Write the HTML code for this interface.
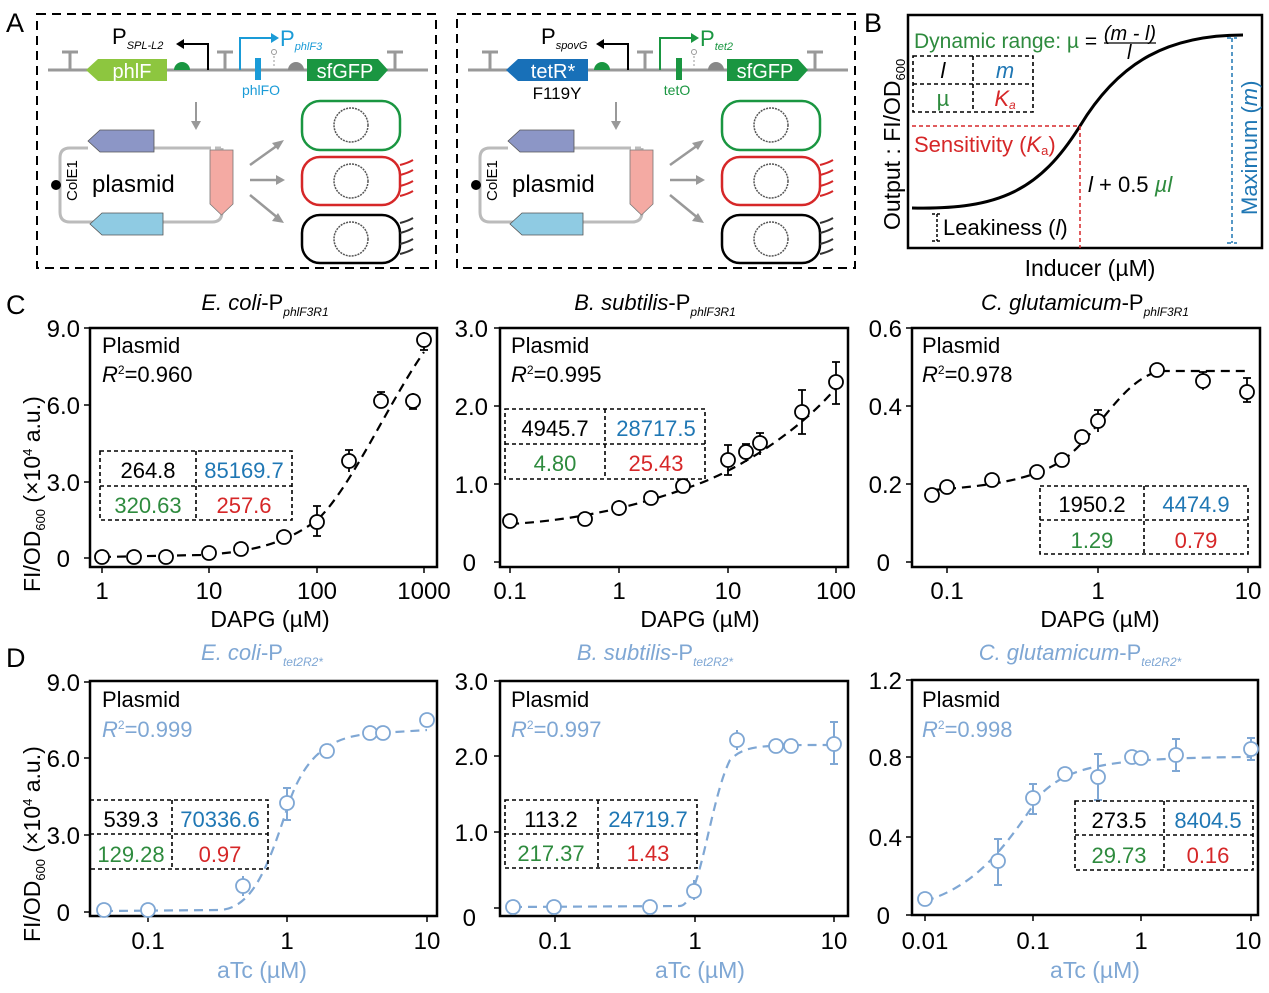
<!DOCTYPE html>
<html><head><meta charset="utf-8"><style>
html,body{margin:0;padding:0;background:#fff;}
svg{display:block;font-family:"Liberation Sans",Arial,sans-serif;}
.tk{font-size:24px;fill:#000;}
.fr{fill:none;stroke:#000;stroke-width:2.5;}
.tb{fill:none;stroke:#000;stroke-width:1.6;stroke-dasharray:4,3;}
.num{font-size:22px;text-anchor:middle;}
.pt{fill:#fff;stroke:#000;stroke-width:1.8;}
.pb{fill:#fff;stroke:#7fa7d4;stroke-width:1.8;}
.eb{stroke:#000;stroke-width:1.8;fill:none;}
.ebb{stroke:#7fa7d4;stroke-width:2;fill:none;}
.ax{font-size:23px;}
</style></head><body>
<svg width="1269" height="993" viewBox="0 0 1269 993" xmlns="http://www.w3.org/2000/svg">
<text x="6" y="32" font-size="27">A</text>
<text x="864" y="32" font-size="27">B</text>
<text x="6" y="314" font-size="27">C</text>
<text x="6" y="667" font-size="27">D</text>

<!-- Panel A box 1 -->
<rect x="37" y="14" width="399" height="254" fill="none" stroke="#000" stroke-width="2" stroke-dasharray="9,6"/>
<line x1="48" y1="70" x2="428" y2="70" stroke="#999" stroke-width="3"/>
<g stroke="#999" stroke-width="3" fill="none">
<path d="M70,70V52M62,52H78"/><path d="M225,70V52M217,52H233"/><path d="M395,70V52M387,52H403"/>
</g>
<polygon points="86,70 98,59 167,59 167,81 98,81" fill="#8dc63f"/>
<text x="132" y="78" font-size="20" fill="#fff" text-anchor="middle">phlF</text>
<path d="M174,70 A8,8 0 0 1 190,70Z" fill="#1a9641"/>
<path d="M208,70V44H182" stroke="#000" stroke-width="2" fill="none"/><polygon points="176,44 184,39 184,49" fill="#000"/>
<text x="112" y="44" font-size="22">P<tspan font-size="11" font-style="italic" dy="5">SPL-L2</tspan></text>
<path d="M240,70V38H272" stroke="#1a9bd7" stroke-width="2" fill="none"/><polygon points="279,38 271,33 271,43" fill="#1a9bd7"/>
<text x="280" y="46" font-size="22" fill="#1a9bd7">P<tspan font-size="11" font-style="italic" dy="4">phlF3</tspan></text>
<rect x="255" y="58" width="6" height="22" fill="#1a9bd7"/>
<text x="261" y="95" font-size="14" fill="#1a9bd7" text-anchor="middle">phlFO</text>
<circle cx="274" cy="52" r="2.5" fill="none" stroke="#999"/><line x1="274" y1="56" x2="274" y2="68" stroke="#999" stroke-dasharray="2,2"/>
<path d="M288,70 A8,8 0 0 1 304,70Z" fill="#888"/>
<polygon points="307,59 378,59 388,70 378,81 307,81" fill="#1a9641"/>
<text x="345" y="78" font-size="20" fill="#fff" text-anchor="middle">sfGFP</text>
<line x1="196" y1="102" x2="196" y2="124" stroke="#999" stroke-width="2"/><polygon points="196,130 191,121 201,121" fill="#999"/>
<path d="M154,148 H205" stroke="#bbb" stroke-width="3"/><path d="M205,148 H222" stroke="#bbb" stroke-width="3" stroke-dasharray="6,4"/>
<path d="M88,148 H70 Q60,148 60,158 V212 Q60,222 70,222 H212 Q222,222 222,212 V148" stroke="#bbb" stroke-width="3" fill="none"/>
<polygon points="88,141 100,130 154,130 154,152 100,152" fill="#8c96c6" stroke="#555" stroke-width="0.8"/>
<polygon points="90,224 102,213 163,213 163,235 102,235" fill="#8fcbe3" stroke="#555" stroke-width="0.8"/>
<polygon points="210,150 233,150 233,204 221.5,215 210,204" fill="#f4aaa3" stroke="#777" stroke-width="0.8"/>
<circle cx="56" cy="185" r="5" fill="#000"/>
<text transform="translate(77,201) rotate(-90)" font-size="15">ColE1</text>
<text x="92" y="192" font-size="24">plasmid</text>
<g stroke="#999" stroke-width="2.5"><line x1="250" y1="165" x2="278" y2="145"/><line x1="250" y1="180" x2="278" y2="180"/><line x1="250" y1="195" x2="278" y2="218"/></g>
<polygon points="284,140 272,143 278,150" fill="#999"/><polygon points="285,180 276,175 276,185" fill="#999"/><polygon points="284,223 278,213 272,221" fill="#999"/>
<rect x="302" y="101" width="98" height="49" rx="18" fill="none" stroke="#1a9641" stroke-width="2.5"/>
<rect x="302" y="157" width="98" height="48" rx="18" fill="none" stroke="#d62728" stroke-width="2.5"/>
<rect x="302" y="215" width="98" height="48" rx="18" fill="none" stroke="#000" stroke-width="2.5"/>
<g fill="none" stroke="#555" stroke-width="1.5" stroke-dasharray="2,1"><circle cx="351" cy="125" r="17"/><circle cx="351" cy="181" r="17"/><circle cx="351" cy="239" r="17"/></g>
<g fill="none" stroke="#d62728" stroke-width="2"><path d="M400,165 q8,-2 13,-5"/><path d="M400,175 q8,-2 13,-5"/><path d="M400,186 q8,-2 13,-5"/><path d="M400,196 q8,-2 13,-5"/></g>
<g fill="none" stroke="#333" stroke-width="2"><path d="M400,223 q8,-2 13,-5"/><path d="M400,233 q8,-2 13,-5"/><path d="M400,244 q8,-2 13,-5"/><path d="M400,254 q8,-2 13,-5"/></g>

<!-- Panel A box 2 -->
<rect x="457" y="14" width="398" height="254" fill="none" stroke="#000" stroke-width="2" stroke-dasharray="9,6"/>
<line x1="468" y1="70" x2="848" y2="70" stroke="#999" stroke-width="3"/>
<g stroke="#999" stroke-width="3" fill="none">
<path d="M490,70V52M482,52H498"/><path d="M645,70V52M637,52H653"/><path d="M815,70V52M807,52H823"/>
</g>
<polygon points="506,70 518,59 588,59 588,81 518,81" fill="#1870b8"/>
<text x="553" y="78" font-size="20" fill="#fff" text-anchor="middle">tetR*</text>
<text x="557" y="99" font-size="17" text-anchor="middle">F119Y</text>
<path d="M594,70 A8,8 0 0 1 610,70Z" fill="#1a9641"/>
<path d="M628,70V44H602" stroke="#000" stroke-width="2" fill="none"/><polygon points="596,44 604,39 604,49" fill="#000"/>
<text x="541" y="44" font-size="22">P<tspan font-size="11" font-style="italic" dy="5">spovG</tspan></text>
<path d="M660,70V38H692" stroke="#1a9641" stroke-width="2" fill="none"/><polygon points="699,38 691,33 691,43" fill="#1a9641"/>
<text x="700" y="46" font-size="22" fill="#1a9641">P<tspan font-size="11" font-style="italic" dy="4">tet2</tspan></text>
<rect x="676" y="58" width="6" height="22" fill="#1a9641"/>
<text x="677" y="95" font-size="14" fill="#1a9641" text-anchor="middle">tetO</text>
<circle cx="694" cy="52" r="2.5" fill="none" stroke="#999"/><line x1="694" y1="56" x2="694" y2="68" stroke="#999" stroke-dasharray="2,2"/>
<path d="M708,70 A8,8 0 0 1 724,70Z" fill="#888"/>
<polygon points="727,59 798,59 808,70 798,81 727,81" fill="#1a9641"/>
<text x="765" y="78" font-size="20" fill="#fff" text-anchor="middle">sfGFP</text>
<line x1="616" y1="102" x2="616" y2="124" stroke="#999" stroke-width="2"/><polygon points="616,130 611,121 621,121" fill="#999"/>
<path d="M574,148 H625" stroke="#bbb" stroke-width="3"/><path d="M625,148 H642" stroke="#bbb" stroke-width="3" stroke-dasharray="6,4"/>
<path d="M508,148 H490 Q480,148 480,158 V212 Q480,222 490,222 H632 Q642,222 642,212 V148" stroke="#bbb" stroke-width="3" fill="none"/>
<polygon points="508,141 520,130 574,130 574,152 520,152" fill="#8c96c6" stroke="#555" stroke-width="0.8"/>
<polygon points="510,224 522,213 583,213 583,235 522,235" fill="#8fcbe3" stroke="#555" stroke-width="0.8"/>
<polygon points="630,150 653,150 653,204 641.5,215 630,204" fill="#f4aaa3" stroke="#777" stroke-width="0.8"/>
<circle cx="476" cy="185" r="5" fill="#000"/>
<text transform="translate(497,201) rotate(-90)" font-size="15">ColE1</text>
<text x="512" y="192" font-size="24">plasmid</text>
<g stroke="#999" stroke-width="2.5"><line x1="670" y1="165" x2="698" y2="145"/><line x1="670" y1="180" x2="698" y2="180"/><line x1="670" y1="195" x2="698" y2="218"/></g>
<polygon points="704,140 692,143 698,150" fill="#999"/><polygon points="705,180 696,175 696,185" fill="#999"/><polygon points="704,223 698,213 692,221" fill="#999"/>
<rect x="722" y="101" width="98" height="49" rx="18" fill="none" stroke="#1a9641" stroke-width="2.5"/>
<rect x="722" y="157" width="98" height="48" rx="18" fill="none" stroke="#d62728" stroke-width="2.5"/>
<rect x="722" y="215" width="98" height="48" rx="18" fill="none" stroke="#000" stroke-width="2.5"/>
<g fill="none" stroke="#555" stroke-width="1.5" stroke-dasharray="2,1"><circle cx="771" cy="125" r="17"/><circle cx="771" cy="181" r="17"/><circle cx="771" cy="239" r="17"/></g>
<g fill="none" stroke="#d62728" stroke-width="2"><path d="M820,165 q8,-2 13,-5"/><path d="M820,175 q8,-2 13,-5"/><path d="M820,186 q8,-2 13,-5"/><path d="M820,196 q8,-2 13,-5"/></g>
<g fill="none" stroke="#333" stroke-width="2"><path d="M820,223 q8,-2 13,-5"/><path d="M820,233 q8,-2 13,-5"/><path d="M820,244 q8,-2 13,-5"/><path d="M820,254 q8,-2 13,-5"/></g>

<!-- Panel B -->
<rect x="908" y="15" width="354" height="233" class="fr"/>
<text transform="translate(900,230) rotate(-90)" font-size="23">Output :  FI/OD<tspan font-size="13" dy="5">600</tspan></text>
<text x="1090" y="276" font-size="23" text-anchor="middle">Inducer (µM)</text>
<path d="M912,208 C1000,210 1040,190 1080,126 C1120,60 1170,35 1243,35" stroke="#000" stroke-width="3" fill="none"/>
<path d="M912,126 H1080 V248" stroke="#d62728" stroke-width="1.5" stroke-dasharray="4,3" fill="none"/>
<path d="M1232,38 V243 M1227,38H1237 M1227,243H1237" stroke="#1f77b4" stroke-width="1.5" stroke-dasharray="4,3" fill="none"/>
<text transform="translate(1257,215) rotate(-90)" font-size="22" fill="#1f77b4">Maximum (<tspan font-style="italic">m</tspan>)</text>
<path d="M937,214 V241 M932,214H942 M932,241H942" stroke="#000" stroke-width="1.5" stroke-dasharray="3,2" fill="none"/>
<text x="943" y="235" font-size="22">Leakiness (<tspan font-style="italic">l</tspan>)</text>
<text x="914" y="152" font-size="22" fill="#d62728">Sensitivity (<tspan font-style="italic">K</tspan><tspan font-size="13" dy="3">a</tspan><tspan dy="-3">)</tspan></text>
<text x="1088" y="192" font-size="22"><tspan font-style="italic">l</tspan> + 0.5 <tspan font-style="italic" fill="#2e8b3e">µl</tspan></text>
<text x="914" y="48" font-size="21" fill="#2e8b3e">Dynamic range: µ <tspan fill="#000">=</tspan></text>
<text x="1130" y="40" font-size="20" text-anchor="middle" font-style="italic">(m - l)</text>
<line x1="1104" y1="43" x2="1156" y2="43" stroke="#000" stroke-width="1.2"/>
<text x="1127" y="59" font-size="20" font-style="italic">l</text>
<rect x="913" y="56" width="120" height="56" class="tb"/><line x1="973" y1="56" x2="973" y2="112" class="tb"/><line x1="913" y1="84" x2="1033" y2="84" class="tb"/>
<text x="943" y="78" class="num" font-size="21" font-style="italic">l</text>
<text x="1005" y="78" class="num" font-size="21" font-style="italic" fill="#1f77b4">m</text>
<text x="943" y="106" class="num" font-size="21" fill="#2e8b3e">µ</text>
<text x="1005" y="106" class="num" font-size="21" font-style="italic" fill="#d62728">K<tspan font-size="12" dy="3">a</tspan></text>

<text transform="translate(40,592) rotate(-90)" font-size="23">FI/OD<tspan font-size="13" dy="5">600</tspan><tspan dy="-5"> (×10</tspan><tspan font-size="13" dy="-8">4</tspan><tspan dy="8"> a.u.)</tspan></text>
<text transform="translate(40,942) rotate(-90)" font-size="23">FI/OD<tspan font-size="13" dy="5">600</tspan><tspan dy="-5"> (×10</tspan><tspan font-size="13" dy="-8">4</tspan><tspan dy="8"> a.u.)</tspan></text>

<!-- C1 -->
<text x="265" y="310" font-size="22" text-anchor="middle"><tspan font-style="italic">E. coli</tspan>-P<tspan font-size="12" font-style="italic" dy="6">phlF3R1</tspan></text>
<rect x="90" y="328" width="347" height="239" class="fr"/>
<g stroke="#000" stroke-width="1.5"><path d="M84,328H90M84,405H90M84,482H90M84,558H90M102,567v6M209,567v6M317,567v6M424,567v6"/></g>
<g class="tk" text-anchor="end"><text x="80" y="337">9.0</text><text x="80" y="414">6.0</text><text x="80" y="491">3.0</text><text x="70" y="567">0</text></g>
<g class="tk" text-anchor="middle"><text x="102" y="599">1</text><text x="209" y="599">10</text><text x="317" y="599">100</text><text x="424" y="599">1000</text></g>
<text x="270" y="627" class="ax" text-anchor="middle">DAPG (µM)</text>
<text x="102" y="353" font-size="22">Plasmid</text>
<text x="102" y="382" font-size="22"><tspan font-style="italic">R</tspan><tspan font-size="12" dy="-8">2</tspan><tspan dy="8">=0.960</tspan></text>
<path d="M102,557 L200,555 C260,552 290,540 317,520 C350,490 390,400 424,352" stroke="#000" stroke-width="2.2" stroke-dasharray="9,6" fill="none"/>
<g class="eb"><path d="M317,506v30M313,506h8M313,536h8M349,450v22M345,450h8M381,392v16M377,392h8M424,332v18M420,350h8M413,393v16M409,409h8"/></g>
<g class="pt"><circle cx="102" cy="557" r="7"/><circle cx="134" cy="557" r="7"/><circle cx="166" cy="557" r="7"/><circle cx="209" cy="553" r="7"/><circle cx="241" cy="549" r="7"/><circle cx="284" cy="537" r="7"/><circle cx="317" cy="522" r="7"/><circle cx="349" cy="461" r="7"/><circle cx="381" cy="401" r="7"/><circle cx="413" cy="401" r="7"/><circle cx="424" cy="340" r="7"/></g>
<rect x="100" y="451" width="192" height="69" class="tb"/><line x1="196" y1="451" x2="196" y2="520" class="tb"/><line x1="100" y1="486" x2="292" y2="486" class="tb"/>
<text x="148" y="478" class="num">264.8</text><text x="244" y="478" class="num" fill="#1f77b4">85169.7</text>
<text x="148" y="513" class="num" fill="#2e8b3e">320.63</text><text x="244" y="513" class="num" fill="#d62728">257.6</text>

<!-- C2 -->
<text x="655" y="310" font-size="22" text-anchor="middle"><tspan font-style="italic">B. subtilis</tspan>-P<tspan font-size="12" font-style="italic" dy="6">phlF3R1</tspan></text>
<rect x="500" y="328" width="348" height="239" class="fr"/>
<g stroke="#000" stroke-width="1.5"><path d="M494,328H500M494,406H500M494,484H500M494,562H500M510,567v6M619,567v6M728,567v6M836,567v6"/></g>
<g class="tk" text-anchor="end"><text x="488" y="337">3.0</text><text x="488" y="415">2.0</text><text x="488" y="493">1.0</text><text x="476" y="571">0</text></g>
<g class="tk" text-anchor="middle"><text x="510" y="599">0.1</text><text x="619" y="599">1</text><text x="728" y="599">10</text><text x="836" y="599">100</text></g>
<text x="700" y="627" class="ax" text-anchor="middle">DAPG (µM)</text>
<text x="511" y="353" font-size="22">Plasmid</text>
<text x="511" y="382" font-size="22"><tspan font-style="italic">R</tspan><tspan font-size="12" dy="-8">2</tspan><tspan dy="8">=0.995</tspan></text>
<path d="M510,524 C580,520 640,505 690,487 C740,470 800,430 836,388" stroke="#000" stroke-width="2.2" stroke-dasharray="9,6" fill="none"/>
<g class="eb"><path d="M728,445v30M724,445h8M724,475h8M746,444v18M742,444h8M760,433v22M756,433h8M802,390v44M798,390h8M798,434h8M836,362v42M832,362h8M832,404h8M619,500v16"/></g>
<g class="pt"><circle cx="510" cy="521" r="7"/><circle cx="585" cy="519" r="7"/><circle cx="619" cy="508" r="7"/><circle cx="651" cy="498" r="7"/><circle cx="683" cy="486" r="7"/><circle cx="728" cy="460" r="7"/><circle cx="746" cy="452" r="7"/><circle cx="760" cy="443" r="7"/><circle cx="802" cy="412" r="7"/><circle cx="836" cy="382" r="7"/></g>
<rect x="505" y="409" width="200" height="70" class="tb"/><line x1="605" y1="409" x2="605" y2="479" class="tb"/><line x1="505" y1="444" x2="705" y2="444" class="tb"/>
<text x="555" y="436" class="num">4945.7</text><text x="656" y="436" class="num" fill="#1f77b4">28717.5</text>
<text x="555" y="471" class="num" fill="#2e8b3e">4.80</text><text x="656" y="471" class="num" fill="#d62728">25.43</text>

<!-- C3 -->
<text x="1085" y="310" font-size="22" text-anchor="middle"><tspan font-style="italic">C. glutamicum</tspan>-P<tspan font-size="12" font-style="italic" dy="6">phlF3R1</tspan></text>
<rect x="912" y="328" width="348" height="239" class="fr"/>
<g stroke="#000" stroke-width="1.5"><path d="M906,328H912M906,406H912M906,484H912M906,562H912M947,567v6M1098,567v6M1248,567v6"/></g>
<g class="tk" text-anchor="end"><text x="902" y="337">0.6</text><text x="902" y="415">0.4</text><text x="902" y="493">0.2</text><text x="890" y="571">0</text></g>
<g class="tk" text-anchor="middle"><text x="947" y="599">0.1</text><text x="1098" y="599">1</text><text x="1248" y="599">10</text></g>
<text x="1100" y="627" class="ax" text-anchor="middle">DAPG (µM)</text>
<text x="922" y="353" font-size="22">Plasmid</text>
<text x="922" y="382" font-size="22"><tspan font-style="italic">R</tspan><tspan font-size="12" dy="-8">2</tspan><tspan dy="8">=0.978</tspan></text>
<path d="M932,490 C990,486 1030,480 1060,462 C1095,440 1120,380 1160,371 L1247,371" stroke="#000" stroke-width="2.2" stroke-dasharray="9,6" fill="none"/>
<g class="eb"><path d="M1098,410v22M1094,410h8M1203,372v18M1199,372h8M1247,378v24M1243,378h8M1243,402h8"/></g>
<g class="pt"><circle cx="932" cy="495" r="7"/><circle cx="947" cy="487" r="7"/><circle cx="992" cy="480" r="7"/><circle cx="1037" cy="472" r="7"/><circle cx="1062" cy="460" r="7"/><circle cx="1082" cy="437" r="7"/><circle cx="1098" cy="421" r="7"/><circle cx="1157" cy="370" r="7"/><circle cx="1203" cy="381" r="7"/><circle cx="1247" cy="392" r="7"/></g>
<rect x="1040" y="486" width="208" height="68" class="tb"/><line x1="1144" y1="486" x2="1144" y2="554" class="tb"/><line x1="1040" y1="520" x2="1248" y2="520" class="tb"/>
<text x="1092" y="512" class="num">1950.2</text><text x="1196" y="512" class="num" fill="#1f77b4">4474.9</text>
<text x="1092" y="548" class="num" fill="#2e8b3e">1.29</text><text x="1196" y="548" class="num" fill="#d62728">0.79</text>

<!-- D1 -->
<text x="262" y="660" font-size="22" text-anchor="middle" fill="#7fa7d4"><tspan font-style="italic">E. coli</tspan>-P<tspan font-size="12" font-style="italic" dy="6">tet2R2*</tspan></text>
<rect x="90" y="681" width="347" height="235" class="fr"/>
<g stroke="#000" stroke-width="1.5"><path d="M84,682H90M84,758H90M84,835H90M84,912H90M148,916v6M287,916v6M427,916v6"/></g>
<g class="tk" text-anchor="end"><text x="80" y="691">9.0</text><text x="80" y="767">6.0</text><text x="80" y="844">3.0</text><text x="70" y="921">0</text></g>
<g class="tk" text-anchor="middle"><text x="148" y="949">0.1</text><text x="287" y="949">1</text><text x="427" y="949">10</text></g>
<text x="262" y="978" class="ax" text-anchor="middle" fill="#7fa7d4">aTc (µM)</text>
<text x="102" y="707" font-size="22">Plasmid</text>
<text x="102" y="737" font-size="22" fill="#7fa7d4"><tspan font-style="italic">R</tspan><tspan font-size="12" dy="-8">2</tspan><tspan dy="8">=0.999</tspan></text>
<path d="M104,911 L220,910 C255,908 270,860 290,800 C310,745 340,735 380,733 L427,730" stroke="#7fa7d4" stroke-width="2.2" stroke-dasharray="9,6" fill="none"/>
<g class="ebb"><path d="M243,876v20M287,788v32M283,788h8M283,820h8M327,744v14M427,714v12"/></g>
<g class="pb"><circle cx="104" cy="910" r="7"/><circle cx="148" cy="910" r="7"/><circle cx="243" cy="886" r="7"/><circle cx="287" cy="803" r="7"/><circle cx="327" cy="751" r="7"/><circle cx="370" cy="733" r="7"/><circle cx="383" cy="733" r="7"/><circle cx="427" cy="720" r="7"/></g>
<rect x="90" y="800" width="178" height="69" class="tb"/><line x1="172" y1="800" x2="172" y2="869" class="tb"/><line x1="90" y1="834" x2="268" y2="834" class="tb"/>
<text x="131" y="827" class="num">539.3</text><text x="220" y="827" class="num" fill="#1f77b4">70336.6</text>
<text x="131" y="862" class="num" fill="#2e8b3e">129.28</text><text x="220" y="862" class="num" fill="#d62728">0.97</text>

<!-- D2 -->
<text x="655" y="660" font-size="22" text-anchor="middle" fill="#7fa7d4"><tspan font-style="italic">B. subtilis</tspan>-P<tspan font-size="12" font-style="italic" dy="6">tet2R2*</tspan></text>
<rect x="500" y="681" width="348" height="235" class="fr"/>
<g stroke="#000" stroke-width="1.5"><path d="M494,681H500M494,756H500M494,832H500M494,908H500M555,916v6M695,916v6M834,916v6"/></g>
<g class="tk" text-anchor="end"><text x="488" y="690">3.0</text><text x="488" y="765">2.0</text><text x="488" y="841">1.0</text><text x="476" y="926">0</text></g>
<g class="tk" text-anchor="middle"><text x="555" y="949">0.1</text><text x="695" y="949">1</text><text x="834" y="949">10</text></g>
<text x="700" y="978" class="ax" text-anchor="middle" fill="#7fa7d4">aTc (µM)</text>
<text x="511" y="707" font-size="22">Plasmid</text>
<text x="511" y="737" font-size="22" fill="#7fa7d4"><tspan font-style="italic">R</tspan><tspan font-size="12" dy="-8">2</tspan><tspan dy="8">=0.997</tspan></text>
<path d="M513,907 L680,906 C700,905 710,800 730,760 C745,745 760,745 834,745" stroke="#7fa7d4" stroke-width="2.2" stroke-dasharray="9,6" fill="none"/>
<g class="ebb"><path d="M694,880v20M737,730v20M834,722v42M830,722h8M830,764h8"/></g>
<g class="pb"><circle cx="513" cy="907" r="7"/><circle cx="554" cy="907" r="7"/><circle cx="650" cy="907" r="7"/><circle cx="694" cy="891" r="7"/><circle cx="737" cy="740" r="7"/><circle cx="776" cy="746" r="7"/><circle cx="791" cy="746" r="7"/><circle cx="834" cy="744" r="7"/></g>
<rect x="505" y="800" width="192" height="68" class="tb"/><line x1="598" y1="800" x2="598" y2="868" class="tb"/><line x1="505" y1="834" x2="697" y2="834" class="tb"/>
<text x="551" y="827" class="num">113.2</text><text x="648" y="827" class="num" fill="#1f77b4">24719.7</text>
<text x="551" y="861" class="num" fill="#2e8b3e">217.37</text><text x="648" y="861" class="num" fill="#d62728">1.43</text>

<!-- D3 -->
<text x="1080" y="660" font-size="22" text-anchor="middle" fill="#7fa7d4"><tspan font-style="italic">C. glutamicum</tspan>-P<tspan font-size="12" font-style="italic" dy="6">tet2R2*</tspan></text>
<rect x="912" y="680" width="346" height="235" class="fr"/>
<g stroke="#000" stroke-width="1.5"><path d="M906,680H912M906,757H912M906,837H912M906,915H912M925,915v6M1033,915v6M1141,915v6M1251,915v6"/></g>
<g class="tk" text-anchor="end"><text x="902" y="689">1.2</text><text x="902" y="766">0.8</text><text x="902" y="846">0.4</text><text x="890" y="924">0</text></g>
<g class="tk" text-anchor="middle"><text x="925" y="949">0.01</text><text x="1033" y="949">0.1</text><text x="1141" y="949">1</text><text x="1248" y="949">10</text></g>
<text x="1095" y="978" class="ax" text-anchor="middle" fill="#7fa7d4">aTc (µM)</text>
<text x="922" y="707" font-size="22">Plasmid</text>
<text x="922" y="737" font-size="22" fill="#7fa7d4"><tspan font-style="italic">R</tspan><tspan font-size="12" dy="-8">2</tspan><tspan dy="8">=0.998</tspan></text>
<path d="M925,901 C980,885 1010,840 1040,795 C1070,765 1110,758 1251,757" stroke="#7fa7d4" stroke-width="2.2" stroke-dasharray="9,6" fill="none"/>
<g class="ebb"><path d="M998,839v46M994,839h8M994,885h8M1033,784v30M1029,784h8M1029,814h8M1098,754v46M1094,754h8M1094,800h8M1176,739v32M1172,739h8M1172,771h8M1251,738v22M1247,738h8M1247,760h8"/></g>
<g class="pb"><circle cx="925" cy="899" r="7"/><circle cx="998" cy="861" r="7"/><circle cx="1033" cy="798" r="7"/><circle cx="1065" cy="774" r="7"/><circle cx="1098" cy="777" r="7"/><circle cx="1132" cy="757" r="7"/><circle cx="1141" cy="758" r="7"/><circle cx="1176" cy="755" r="7"/><circle cx="1251" cy="749" r="7"/></g>
<rect x="1075" y="801" width="178" height="69" class="tb"/><line x1="1164" y1="801" x2="1164" y2="870" class="tb"/><line x1="1075" y1="835" x2="1253" y2="835" class="tb"/>
<text x="1119" y="828" class="num">273.5</text><text x="1208" y="828" class="num" fill="#1f77b4">8404.5</text>
<text x="1119" y="863" class="num" fill="#2e8b3e">29.73</text><text x="1208" y="863" class="num" fill="#d62728">0.16</text>
</svg>
</body></html>
